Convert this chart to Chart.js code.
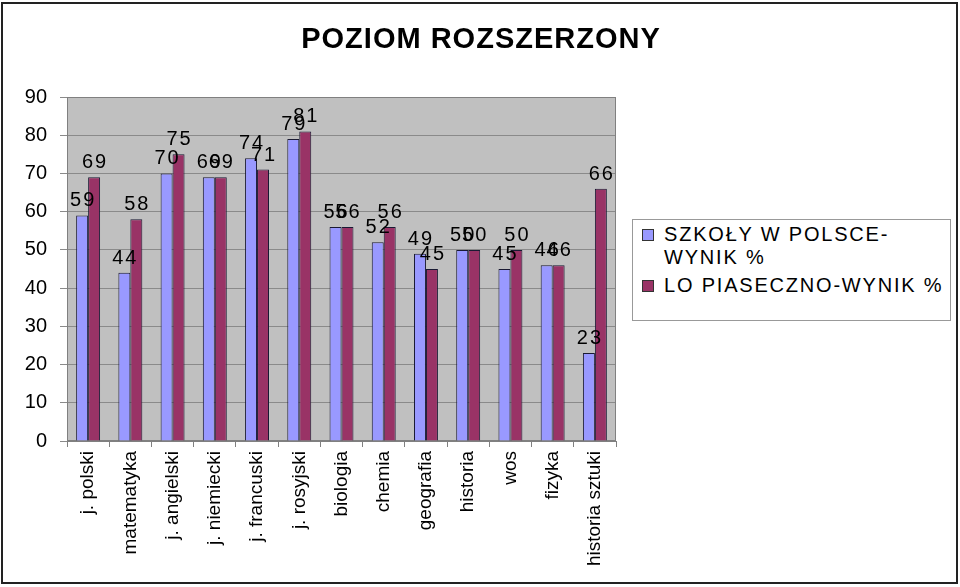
<!DOCTYPE html>
<html>
<head>
<meta charset="utf-8">
<script src="https://cdn.jsdelivr.net/npm/chart.js@4.4.0/dist/chart.umd.min.js"></script>
<style>
    body { margin: 0; background: #fff; }
    #wrap { position: relative; width: 960px; height: 587px; }
    #title {
        position: absolute; left: 0; width: 962px; top: 20px; text-align: center;
        font-family: "Liberation Sans", Arial, sans-serif; font-size: 29px; font-weight: bold;
        letter-spacing: 1px; line-height: 36px; color: #000;
    }
    #legend {
        position: absolute; left: 632px; top: 219px; width: 319px; height: 102px;
        box-sizing: border-box; border: 1px solid #999; background: #fff;
        font-family: "Liberation Sans", Arial, sans-serif; font-size: 20px;
        letter-spacing: 1.8px; color: #000; padding-top: 3px;
    }
    .item { display: flex; align-items: flex-start; margin-bottom: 5px; }
    .box { width: 10px; height: 10px; border: 1px solid #333; margin: 6px 10px 0 9px; flex: none; }
    .txt { line-height: 23px; white-space: nowrap; }
</style>
</head>
<body>
<div id="wrap">
    <canvas id="barChart" width="960" height="587"></canvas>
    <div id="title">POZIOM ROZSZERZONY</div>
    <div id="legend"></div>
</div>
<script>
// Data
const subjects = ['j. polski', 'matematyka', 'j. angielski', 'j. niemiecki', 'j. francuski', 'j. rosyjski',
    'biologia', 'chemia', 'geografia', 'historia', 'wos', 'fizyka', 'historia sztuki'];
const polandScores = [59, 44, 70, 69, 74, 79, 56, 52, 49, 50, 45, 46, 23];
const piasecznoScores = [69, 58, 75, 69, 71, 81, 56, 56, 45, 50, 50, 46, 66];
const seriesLines = [['SZKOŁY W POLSCE-', 'WYNIK %'], ['LO PIASECZNO-WYNIK %']];
const seriesColors = ['#9999ff', '#993366'];
const yTicks = [0, 10, 20, 30, 40, 50, 60, 70, 80, 90];

const FONT = '"Liberation Sans", Arial, sans-serif';

// Background, plot area fill and outer frame
const frame = {
    id: 'frame',
    beforeDraw(chart) {
        const { ctx, chartArea: a } = chart;
        ctx.save();
        ctx.fillStyle = '#fff';
        ctx.fillRect(0, 0, chart.width, chart.height);
        ctx.fillStyle = '#c0c0c0';
        ctx.fillRect(a.left, a.top, a.right - a.left, a.bottom - a.top);
        ctx.restore();
    },
    beforeDatasetsDraw(chart) {
        const { ctx, chartArea: a } = chart;
        ctx.save();
        ctx.strokeStyle = '#808080';
        ctx.lineWidth = 1;
        ctx.strokeRect(a.left + 0.5, a.top + 0.5, a.right - a.left - 1, a.bottom - a.top - 1);
        ctx.restore();
    },
    afterDraw(chart) {
        const ctx = chart.ctx;
        ctx.save();
        ctx.strokeStyle = '#222';
        ctx.lineWidth = 2;
        ctx.strokeRect(2, 3, 955, 580);
        ctx.restore();
    }
};

// Value labels above bars
const valueLabels = {
    id: 'valueLabels',
    afterDatasetsDraw(chart) {
        const ctx = chart.ctx;
        ctx.save();
        ctx.font = '20px ' + FONT;
        ctx.letterSpacing = '2px';
        ctx.fillStyle = '#000';
        ctx.textAlign = 'center';
        ctx.textBaseline = 'alphabetic';
        chart.data.datasets.forEach((ds, i) => {
            chart.getDatasetMeta(i).data.forEach((bar, j) => {
                ctx.fillText(String(ds.data[j]), bar.x + 1, bar.y - 9);
            });
        });
        ctx.restore();
    }
};

const ctx = document.getElementById('barChart').getContext('2d');
const chart = new Chart(ctx, {
    type: 'bar',
    data: {
        labels: subjects,
        datasets: [
            { label: seriesLines[0].join(''), data: polandScores, backgroundColor: seriesColors[0] },
            { label: seriesLines[1].join(''), data: piasecznoScores, backgroundColor: seriesColors[1] }
        ].map(ds => Object.assign(ds, {
            borderColor: '#1a1a33',
            borderWidth: 1,
            borderSkipped: 'bottom',
            categoryPercentage: 0.567,
            barPercentage: 1
        }))
    },
    options: {
        responsive: false,
        animation: false,
        layout: { padding: { left: 0, right: 344, top: 97, bottom: 0 } },
        scales: {
            x: {
                grid: { offset: true, drawOnChartArea: false, tickLength: 6, color: '#808080' },
                border: { color: '#808080' },
                ticks: {
                    minRotation: 90, maxRotation: 90, autoSkip: false, padding: 4,
                    color: '#000', font: { family: FONT, size: 19 }
                },
                afterFit(scale) { scale.height = 146; }
            },
            y: {
                min: 0, max: 90,
                afterBuildTicks(scale) { scale.ticks = yTicks.map(v => ({ value: v })); },
                grid: { color: '#8a8a8a', tickLength: 7 },
                border: { color: '#808080' },
                ticks: { padding: 13, color: '#000', font: { family: FONT, size: 20 } },
                afterFit(scale) { scale.width = 67; }
            }
        },
        plugins: {
            legend: { display: false },
            tooltip: { enabled: false },
            title: { display: false }
        }
    },
    plugins: [frame, valueLabels]
});

// HTML legend
const legend = document.getElementById('legend');
chart.data.datasets.forEach((ds, i) => {
    const item = document.createElement('div');
    item.className = 'item';
    item.innerHTML = `<span class="box" style="background:${ds.backgroundColor}"></span>` +
        `<span class="txt">${seriesLines[i].join('<br>')}</span>`;
    legend.appendChild(item);
});
</script>
</body>
</html>
